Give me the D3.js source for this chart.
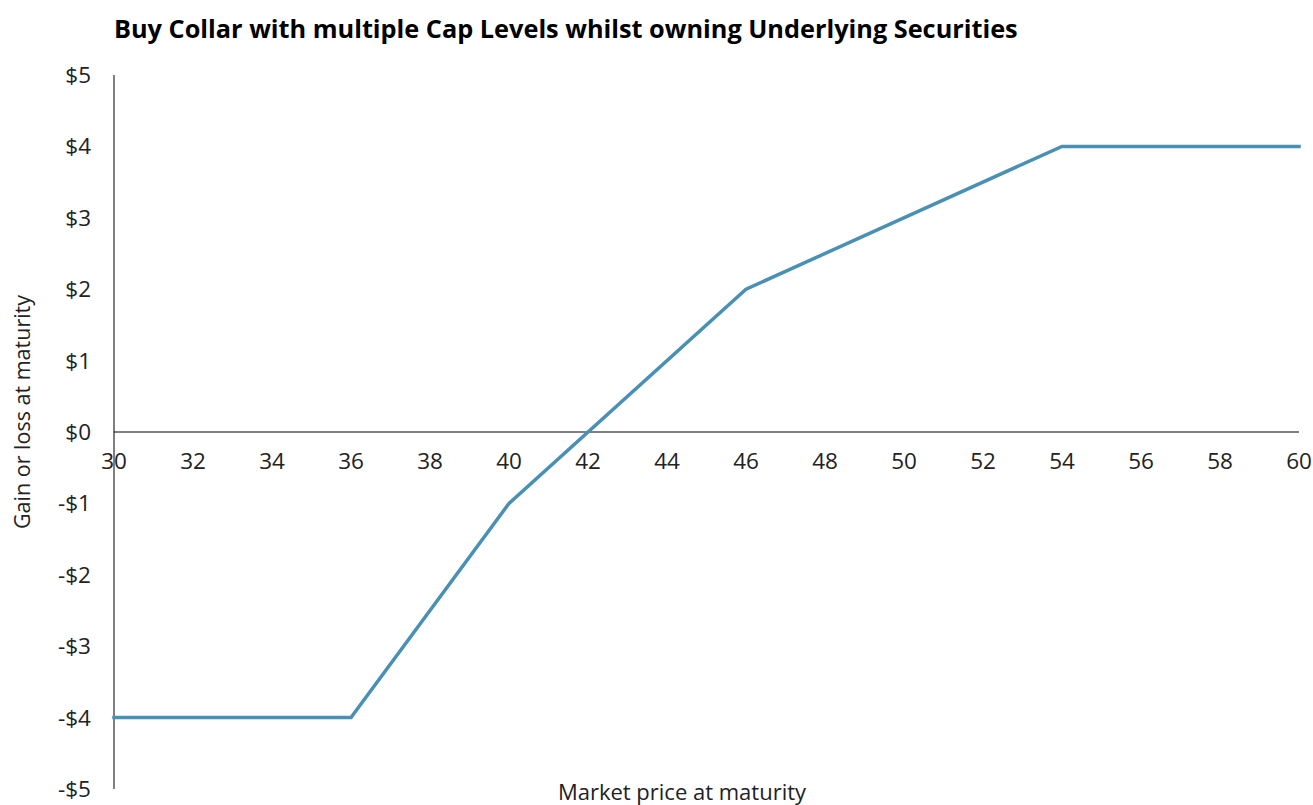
<!DOCTYPE html>
<html>
<head>
<meta charset="utf-8">
<script src="https://cdn.jsdelivr.net/npm/d3@7"></script>
<style>
  body { margin: 0; background: #fff; }
  text { font-family: "Open Sans", "Noto Sans", sans-serif; fill: #222; }
</style>
</head>
<body>
<svg id="svg"></svg>
<script>
    // - chart data
    var prices = [30, 36, 40, 46, 54, 60];
    var payoffs = [-4, -4, -1, 2, 4, 4];
    var xTicks = [30, 32, 34, 36, 38, 40, 42, 44, 46, 48, 50, 52, 54, 56, 58, 60];
    var yTicks = [5, 4, 3, 2, 1, 0, -1, -2, -3, -4, -5];

    var width = 1313, height = 805;
    var svg = d3.select("svg#svg")
        .attr("width", width)
        .attr("height", height);

    var x = d3.scaleLinear().domain([30, 60]).range([114, 1299]);
    var y = d3.scaleLinear().domain([-5, 5]).range([789, 75]);

    // title
    svg.append("text")
        .attr("x", 114)
        .attr("y", 38)
        .style("font-size", "25.3px")
        .style("font-weight", "bold")
        .style("fill", "#000")
        .text("Buy Collar with multiple Cap Levels whilst owning Underlying Securities");

    // y axis line + labels
    svg.append("line")
        .attr("x1", x(30)).attr("x2", x(30))
        .attr("y1", y(5)).attr("y2", y(-5))
        .style("stroke", "#000").style("stroke-width", 1);

    svg.selectAll("text.ytick").data(yTicks).enter()
        .append("text")
        .attr("class", "ytick")
        .attr("x", 91)
        .attr("y", function(d) { return y(d) + 8; })
        .style("text-anchor", "end")
        .style("font-size", "22.5px")
        .text(function(d) { return (d < 0 ? "-$" : "$") + Math.abs(d); });

    // x axis line at zero + labels
    svg.append("line")
        .attr("x1", x(30)).attr("x2", x(60))
        .attr("y1", y(0)).attr("y2", y(0))
        .style("stroke", "#000").style("stroke-width", 1);

    svg.selectAll("text.xtick").data(xTicks).enter()
        .append("text")
        .attr("class", "xtick")
        .attr("x", function(d) { return x(d); })
        .attr("y", y(0) + 37)
        .style("text-anchor", "middle")
        .style("font-size", "22.5px")
        .text(function(d) { return d; });

    // axis titles
    svg.append("text")
        .attr("x", 682)
        .attr("y", 800)
        .style("text-anchor", "middle")
        .style("font-size", "22px")
        .text("Market price at maturity");

    svg.append("text")
        .attr("transform", "translate(30,412) rotate(-90)")
        .style("text-anchor", "middle")
        .style("font-size", "21.5px")
        .text("Gain or loss at maturity");

    // payoff line
    var line = d3.line()
        .x(function(d) { return x(d[0]); })
        .y(function(d) { return y(d[1]); });

    svg.append("path")
        .datum(d3.zip(prices, payoffs))
        .attr("d", line)
        .style("fill", "none")
        .style("stroke", "#4a90b4")
        .style("stroke-width", 3.5)
        .style("stroke-linecap", "square");
</script>
</body>
</html>
